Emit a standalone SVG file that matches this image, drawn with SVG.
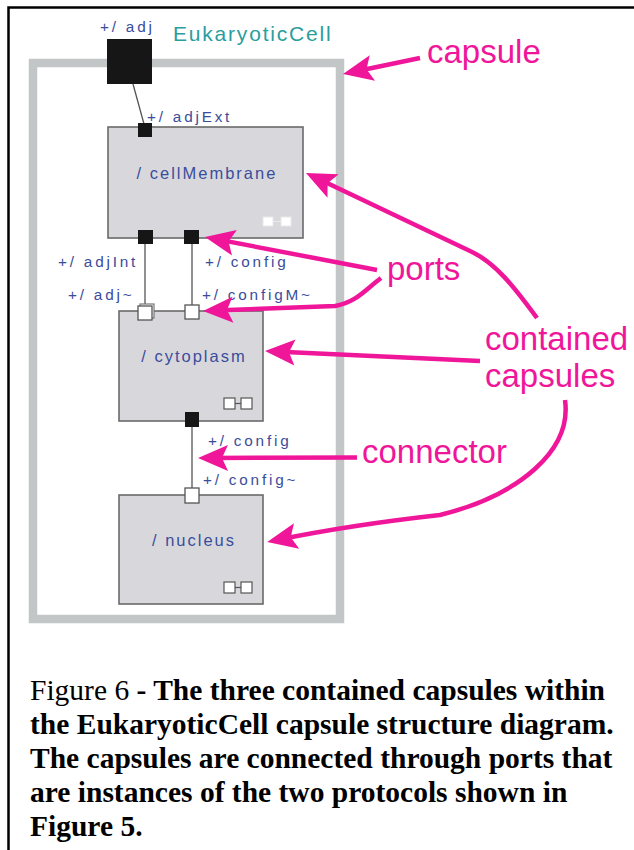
<svg xmlns="http://www.w3.org/2000/svg" width="634" height="850" viewBox="0 0 634 850">
<style>
.lbl{font-family:"Liberation Sans",Arial,sans-serif;font-size:15.3px;letter-spacing:2.8px;fill:#3a4d9c}
.name{font-family:"Liberation Sans",Arial,sans-serif;font-size:16.5px;letter-spacing:2px;fill:#3a4d9c;text-anchor:middle}
.box{fill:#d8d8dc;stroke:#6a6a6a;stroke-width:1.6}
.bp{fill:#161616}
.wp{fill:#ffffff;stroke:#555;stroke-width:1.3}
.conn{stroke:#555;stroke-width:1.3;fill:none}
.pink{stroke:#f0169a;stroke-width:4.5;fill:none;marker-end:url(#ah)}
.ann{font-family:"Liberation Sans",Arial,sans-serif;font-size:33px;fill:#f0169a}
.cap{font-family:"Liberation Serif","Times New Roman",serif;font-size:29.5px;fill:#000}
.ico{fill:#fff;stroke:#555;stroke-width:1.2}
</style>
<defs>
<marker id="ah" markerUnits="userSpaceOnUse" viewBox="-2 -15 34 30" markerWidth="34" markerHeight="30" refX="20" refY="0" orient="auto">
<path d="M0,-13 L30,0 L0,13 L6,0 Z" fill="#f0169a"/>
</marker>
</defs>
<rect width="634" height="850" fill="#fff"/>
<path d="M8.5,850 L8.5,7.5 L634,7.5" fill="none" stroke="#000" stroke-width="2.5"/>

<g id="EukaryoticCell">
<rect x="33" y="63" width="307" height="556" fill="#fff" stroke="#c2c6c6" stroke-width="8.5"/>
<text x="173" y="40.5" font-family="'Liberation Sans',Arial,sans-serif" font-size="21" letter-spacing="1.8" fill="#2a9d9d">EukaryoticCell</text>
</g>

<g id="port-adj">
<rect class="bp" x="107" y="39" width="45" height="45"/>
<text class="lbl" x="100" y="32">+/ adj</text>
</g>

<g id="connectors">
<line class="conn" x1="133" y1="84" x2="144" y2="124"/>
<line class="conn" x1="145" y1="244" x2="145" y2="306"/>
<line class="conn" x1="192" y1="244" x2="192" y2="306"/>
<line class="conn" x1="192" y1="427" x2="192" y2="489"/>
</g>

<g id="cellMembrane">
<rect class="box" x="108" y="127" width="195" height="111"/>
<text class="name" x="207" y="179">/ cellMembrane</text>
<rect x="263" y="217" width="10" height="9" fill="#fff" stroke="#e8e8ea" stroke-width="1"/>
<line x1="273" y1="221.5" x2="281" y2="221.5" stroke="#e8e8ea" stroke-width="1.2"/>
<rect x="281" y="217" width="10" height="9" fill="#fff" stroke="#e8e8ea" stroke-width="1"/>
<rect class="bp" x="138" y="123" width="14" height="14"/>
<text class="lbl" x="147" y="121.5">+/ adjExt</text>
<rect class="bp" x="138" y="230" width="15" height="14"/>
<rect class="bp" x="184" y="230" width="15" height="14"/>
<text class="lbl" x="58" y="267">+/ adjInt</text>
<text class="lbl" x="205" y="267">+/ config</text>
</g>

<g id="cytoplasm">
<rect class="box" x="119" y="311" width="144" height="110"/>
<text class="name" x="194" y="362">/ cytoplasm</text>
<rect class="ico" x="224" y="398" width="11" height="11"/>
<line x1="235" y1="403.5" x2="241" y2="403.5" stroke="#555" stroke-width="1.2"/>
<rect class="ico" x="241" y="398" width="11" height="11"/>
<rect x="140" y="304" width="14" height="14" fill="#fff" stroke="#777" stroke-width="1.2"/>
<rect class="wp" x="138" y="306" width="14" height="14"/>
<rect class="wp" x="185" y="305" width="14" height="14"/>
<rect class="bp" x="185" y="412" width="14" height="15"/>
<text class="lbl" x="68" y="300">+/ adj~</text>
<text class="lbl" x="202" y="300">+/ configM~</text>
<text class="lbl" x="208" y="446">+/ config</text>
</g>

<g id="nucleus">
<rect class="box" x="119" y="495" width="144" height="109"/>
<text class="name" x="194" y="546">/ nucleus</text>
<rect class="ico" x="224" y="582" width="11" height="11"/>
<line x1="235" y1="587.5" x2="241" y2="587.5" stroke="#555" stroke-width="1.2"/>
<rect class="ico" x="241" y="582" width="11" height="11"/>
<rect class="wp" x="185" y="488" width="14" height="15"/>
<text class="lbl" x="203" y="485">+/ config~</text>
</g>

<g id="annotations">
<path class="pink" d="M420,58 L352.8,72"/>
<path class="pink" d="M537,318 C 515,288 495,262 470,251 L 315,177.3"/>
<path class="pink" d="M377,270 L 214.8,238.9"/>
<path class="pink" d="M381,278 C 365,290 355,303 335,306 L 213,310.6"/>
<path class="pink" d="M480,361 L 275,351.5"/>
<path class="pink" d="M565,400 C 572,450 520,495 440,515 Q 350,525 277,540"/>
<path class="pink" d="M357,457.5 L 208,458"/>
<text class="ann" x="427" y="63">capsule</text>
<text class="ann" x="387" y="280">ports</text>
<text class="ann" x="485" y="350">contained</text>
<text class="ann" x="485" y="387">capsules</text>
<text class="ann" x="362" y="463">connector</text>
</g>

<g id="caption" class="cap">
<text x="30" y="700">Figure 6 <tspan font-weight="bold">- The three contained capsules within</tspan></text>
<text x="30" y="734" font-weight="bold">the EukaryoticCell capsule structure diagram.</text>
<text x="30" y="768" font-weight="bold">The capsules are connected through ports that</text>
<text x="30" y="802" font-weight="bold">are instances of the two protocols shown in</text>
<text x="30" y="836" font-weight="bold">Figure 5.</text>
</g>
</svg>
